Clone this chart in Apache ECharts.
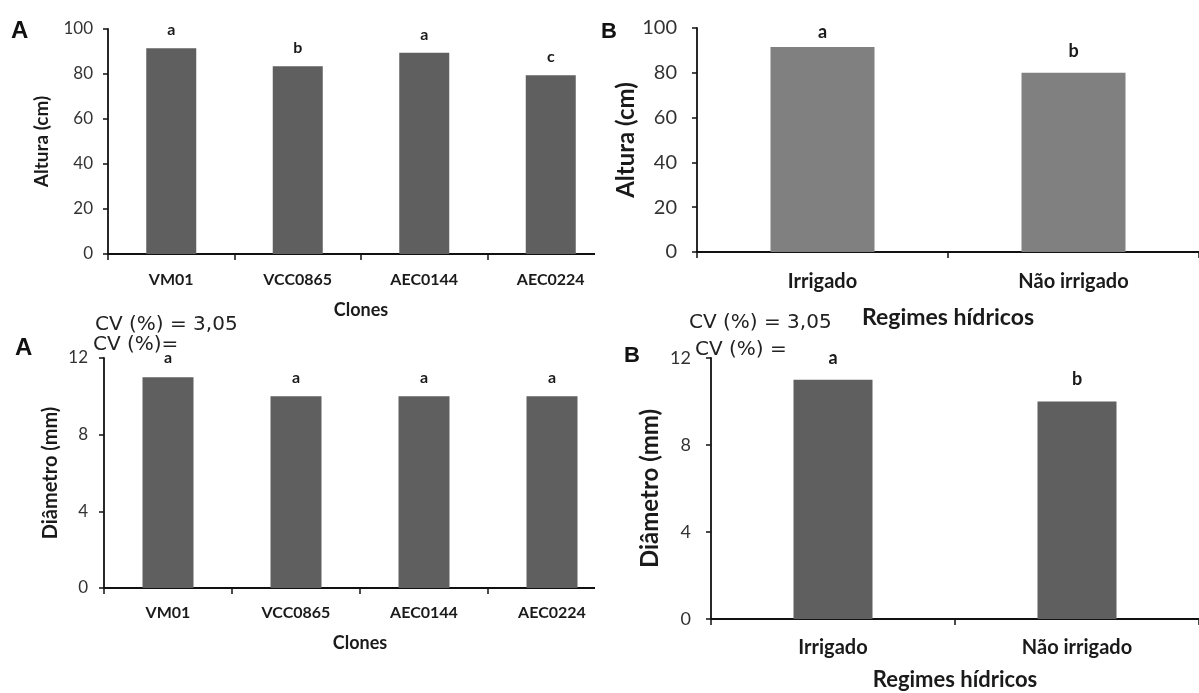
<!DOCTYPE html>
<html>
<head>
<meta charset="utf-8">
<script src="https://cdn.jsdelivr.net/npm/echarts@6/dist/echarts.min.js"></script>
<style>html,body{margin:0;padding:0;background:#fff}#c{width:1199px;height:693px}</style>
</head>
<body>
<div id="c"></div>
<script>
// ---- data ----
const clones = ['VM01', 'VCC0865', 'AEC0144', 'AEC0224'];
const regimes = ['Irrigado', 'Não irrigado'];
const alturaClones = [91.5, 83.5, 89.5, 79.5];
const alturaRegimes = [91.5, 80];
const diametroClones = [11, 10, 10, 10];
const diametroRegimes = [11, 10];
const lettersAlturaClones = ['a', 'b', 'a', 'c'];
const lettersAlturaRegimes = ['a', 'b'];
const lettersDiametroClones = ['a', 'a', 'a', 'a'];
const lettersDiametroRegimes = ['a', 'b'];
const alturaTicks = [0, 100, 20];
const diametroTicks = [0, 12, 4];
const cvText = 'CV (%) = 3,05';
const cvText2a = 'CV (%)=';
const cvText2b = 'CV (%) =';

const FONT = 'Lato';
const chart = echarts.init(document.getElementById('c'), null, {renderer: 'canvas'});

function xAx(gi, cats, name, lblSize, nameSize, margin, nameGap) {
  return {
    gridIndex: gi, type: 'category', data: cats,
    name: name, nameLocation: 'middle', nameGap: nameGap,
    nameTextStyle: {fontFamily: FONT, fontWeight: 'bold', fontSize: nameSize, color: '#1a1a1a'},
    axisLine: {lineStyle: {color: '#111', width: 1.8}},
    axisTick: {show: true, length: 6, lineStyle: {color: '#111', width: 1.5}},
    axisLabel: {fontFamily: FONT, fontWeight: 'bold', fontSize: lblSize, color: '#1a1a1a', margin: margin}
  };
}
function yAx(gi, ticks, name, lblSize, nameSize, nameGap, margin) {
  return {
    gridIndex: gi, type: 'value', min: ticks[0], max: ticks[1], interval: ticks[2],
    name: name, nameLocation: 'middle', nameRotate: 90, nameGap: nameGap,
    nameTextStyle: {fontFamily: FONT, fontWeight: 'bold', fontSize: nameSize, color: '#1a1a1a'},
    axisLine: {show: true, lineStyle: {color: '#111', width: 1.8}},
    axisTick: {show: true, length: 5, lineStyle: {color: '#111', width: 1.5}},
    axisLabel: {fontFamily: FONT, fontSize: lblSize, color: '#333', margin: margin},
    splitLine: {show: false}
  };
}
function barSeries(i, vals, letters, color, width, dists, lsize) {
  return {
    type: 'bar', xAxisIndex: i, yAxisIndex: i, barWidth: width,
    itemStyle: {color: color},
    data: vals.map((v, k) => ({
      value: v,
      label: {show: true, position: 'top', distance: dists[k], formatter: letters[k],
        fontFamily: FONT, fontWeight: 'bold', fontSize: lsize, color: '#1a1a1a'}
    }))
  };
}

const option = {
  animation: false,
  backgroundColor: '#fff',
  grid: [
    {left: 108, top: 29, width: 506, height: 225},
    {left: 697, top: 28, width: 524, height: 224},
    {left: 104, top: 358, width: 512, height: 230},
    {left: 711, top: 358, width: 502, height: 261}
  ],
  xAxis: [
    xAx(0, clones, 'Clones', 16, 18, 18, 47),
    xAx(1, regimes, 'Regimes hídricos', 20, 23, 20, 54),
    xAx(2, clones, 'Clones', 16, 18, 17, 46),
    xAx(3, regimes, 'Regimes hídricos', 20, 22, 19, 50)
  ],
  yAxis: [
    yAx(0, alturaTicks, 'Altura (cm)', 17, 19, 57, 15),
    yAx(1, alturaTicks, 'Altura (cm)', 20, 24, 56, 20),
    yAx(2, diametroTicks, 'Diâmetro (mm)', 17, 20, 43, 16),
    yAx(3, diametroTicks, 'Diâmetro (mm)', 18, 24, 49, 20)
  ],
  series: [
    barSeries(0, alturaClones, lettersAlturaClones, '#5f5f5f', 50, [10, 10, 10, 10], 16),
    barSeries(1, alturaRegimes, lettersAlturaRegimes, '#808080', 104, [6, 13], 18),
    barSeries(2, diametroClones, lettersDiametroClones, '#5f5f5f', 51, [11, 10, 10, 10], 16),
    barSeries(3, diametroRegimes, lettersDiametroRegimes, '#5f5f5f', 79, [13, 13], 18)
  ],
  graphic: [
    {type: 'rect', shape: {x: 595, y: 244, width: 24, height: 20}, style: {fill: '#fff'}, z: 100},
    {type: 'rect', shape: {x: 595, y: 578, width: 24, height: 20}, style: {fill: '#fff'}, z: 100},
    {type: 'text', left: 11, top: 19, z: 110, style: {text: 'A', font: 'bold 24px "Liberation Sans"', fill: '#111'}},
    {type: 'text', left: 601, top: 21, z: 110, style: {text: 'B', font: 'bold 22px "Liberation Sans Narrow", "Liberation Sans"', fill: '#111'}},
    {type: 'text', left: 15, top: 336, z: 110, style: {text: 'A', font: 'bold 24px "Liberation Sans"', fill: '#111'}},
    {type: 'text', left: 624, top: 345, z: 110, style: {text: 'B', font: 'bold 22px "Liberation Sans Narrow", "Liberation Sans"', fill: '#111'}},
    {type: 'text', left: 95, top: 315, z: 110, style: {text: cvText, font: '20px "DejaVu Sans"', fill: '#222'}},
    {type: 'text', left: 93, top: 335, z: 110, style: {text: cvText2a, font: '20px "DejaVu Sans"', fill: '#222'}},
    {type: 'text', left: 689, top: 313, z: 110, style: {text: cvText, font: '20px "DejaVu Sans"', fill: '#222'}},
    {type: 'text', left: 695, top: 340, z: 110, style: {text: cvText2b, font: '20px "DejaVu Sans"', fill: '#222'}}
  ]
};
chart.setOption(option);
</script>
</body>
</html>
